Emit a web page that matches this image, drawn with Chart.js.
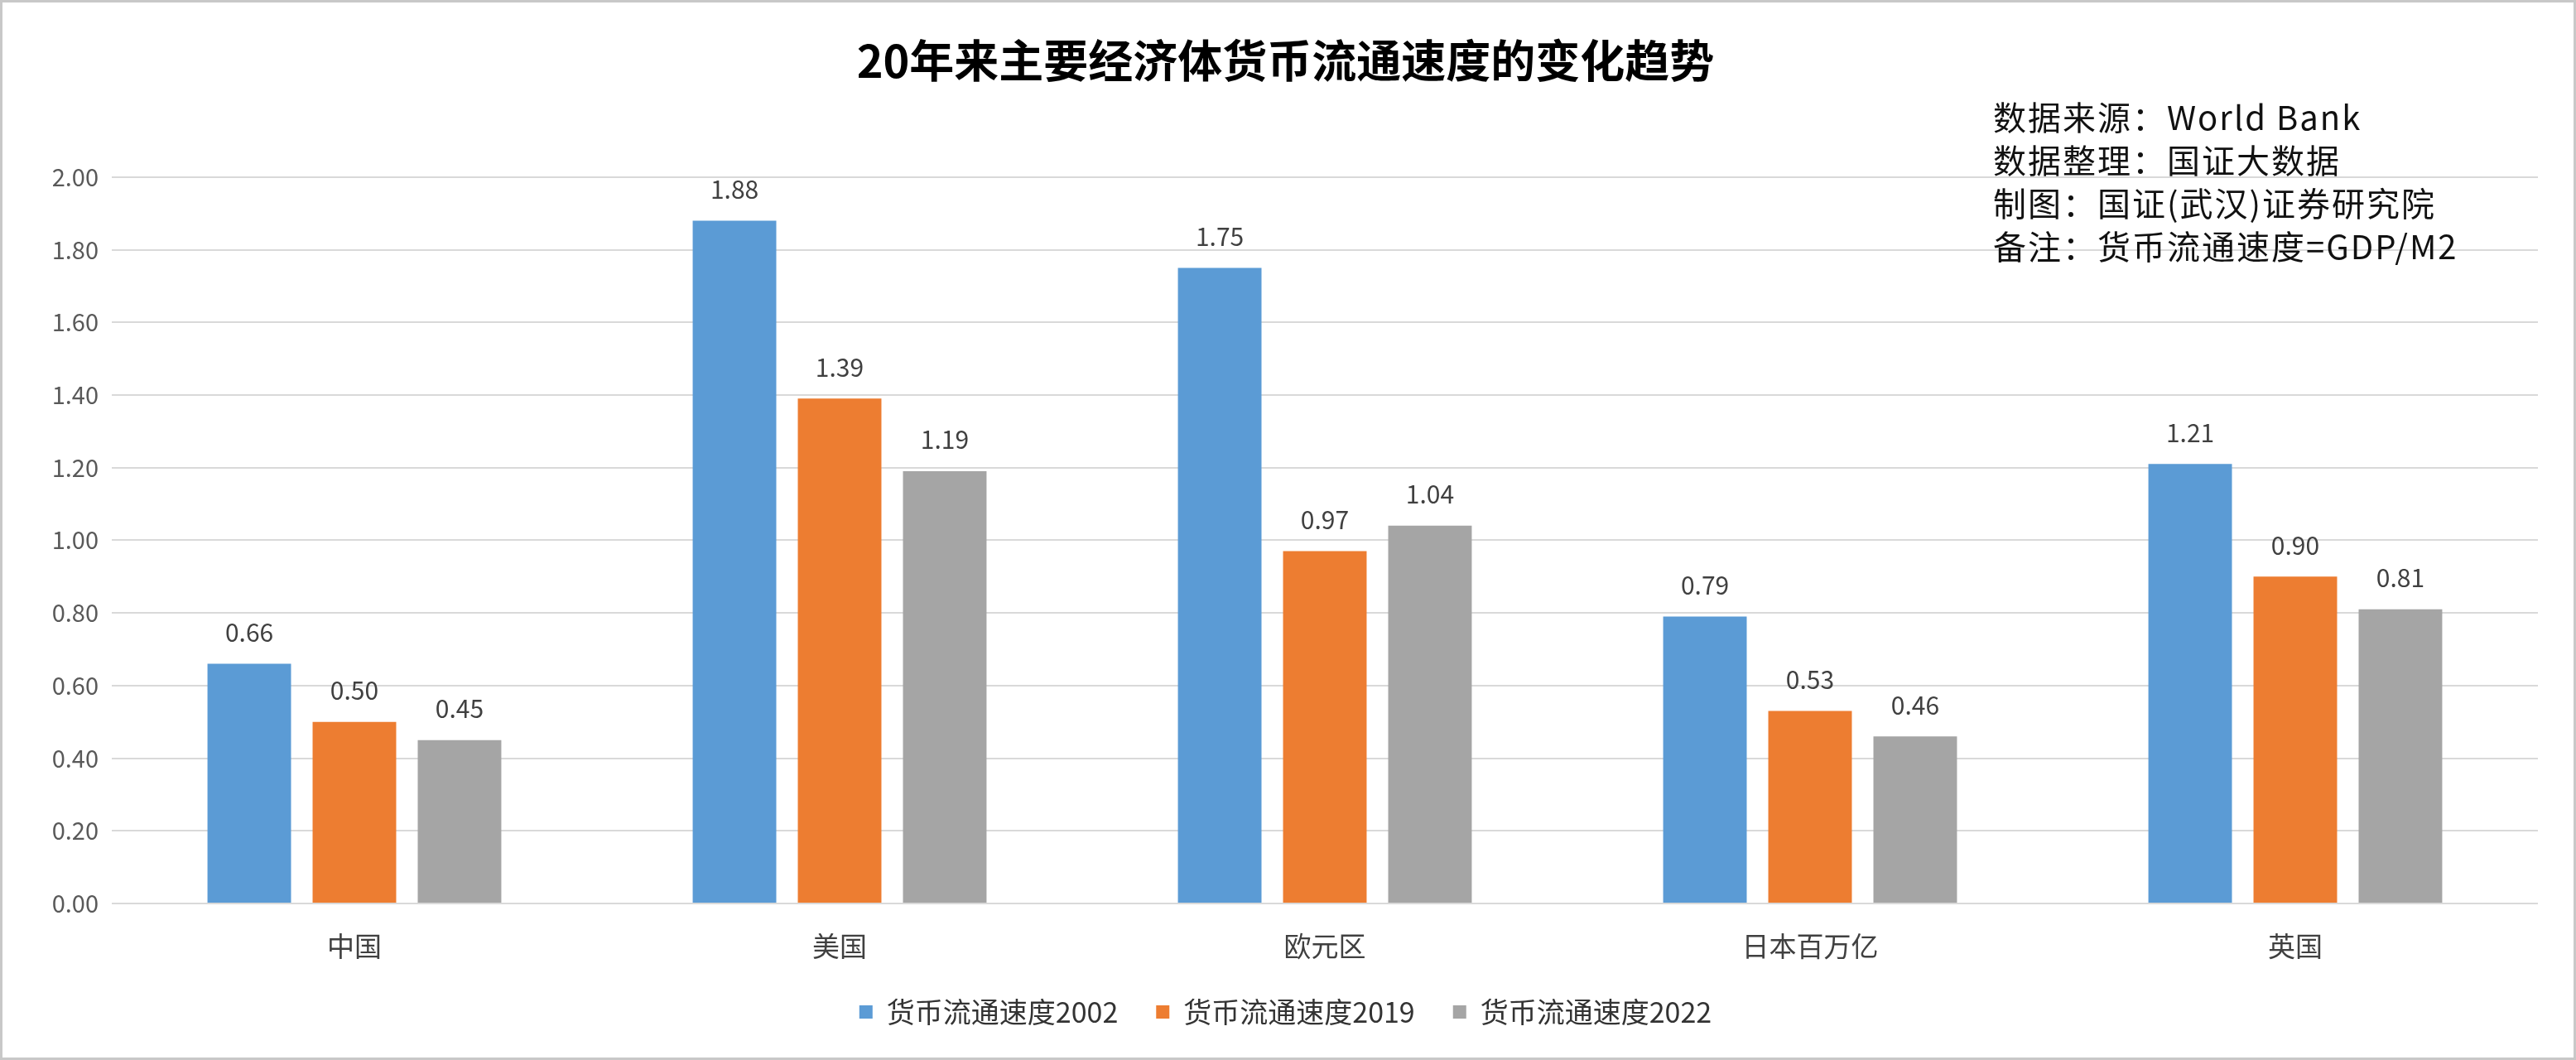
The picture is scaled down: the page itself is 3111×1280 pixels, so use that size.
<!DOCTYPE html>
<html><head><meta charset="utf-8">
<script src="https://cdn.jsdelivr.net/npm/chart.js@4.4.1/dist/chart.umd.min.js"></script>
<style>html,body{margin:0;padding:0;background:#fff;overflow:hidden}#wrap{width:3111px;height:1280px}</style>
</head><body><div id="wrap"><canvas id="c" width="3111" height="1280" style="width:3111px;height:1280px"></canvas></div>
<script>
const categories = ['中国', '美国', '欧元区', '日本百万亿', '英国'];
const seriesNames = ['货币流通速度2002', '货币流通速度2019', '货币流通速度2022'];
const v2002 = [0.66, 1.88, 1.75, 0.79, 1.21];
const v2019 = [0.50, 1.39, 0.97, 0.53, 0.90];
const v2022 = [0.45, 1.19, 1.04, 0.46, 0.81];
const yTickLabels = ['0.00', '0.20', '0.40', '0.60', '0.80', '1.00', '1.20', '1.40', '1.60', '1.80', '2.00'];
const titleText = '20年来主要经济体货币流通速度的变化趋势';
const notes = ['数据来源：World Bank', '数据整理：国证大数据', '制图：国证(武汉)证券研究院', '备注：货币流通速度=GDP/M2'];

const colors = ['#5B9BD5', '#ED7D31', '#A5A5A5'];
const FONT = '"Noto Sans CJK SC", "Noto Sans", sans-serif';

const bgPlugin = {
  id: 'bg',
  beforeDraw(chart) {
    const ctx = chart.ctx;
    ctx.save();
    ctx.fillStyle = '#ffffff';
    ctx.fillRect(0, 0, chart.width, chart.height);
    ctx.restore();
  },
  afterDraw(chart) {
    const ctx = chart.ctx;
    ctx.save();
    ctx.strokeStyle = '#c8c8c8';
    ctx.lineWidth = 3;
    ctx.strokeRect(1.5, 1.5, chart.width - 3, chart.height - 3);
    // notes block
    ctx.fillStyle = '#111111';
    ctx.font = '40px ' + FONT;
    ctx.textBaseline = 'middle';
    ctx.textAlign = 'left';
    try { ctx.letterSpacing = '2px'; } catch (e) {}
    const x0 = chart.width - 704;
    notes.forEach((t, i) => ctx.fillText(t, x0, 142 + i * 52));
    ctx.restore();
  }
};

const labelPlugin = {
  id: 'vals',
  afterDatasetsDraw(chart) {
    const ctx = chart.ctx;
    ctx.save();
    ctx.font = '30px ' + FONT;
    ctx.fillStyle = '#404040';
    ctx.textAlign = 'center';
    ctx.textBaseline = 'middle';
    chart.data.datasets.forEach((ds, di) => {
      const meta = chart.getDatasetMeta(di);
      meta.data.forEach((bar, i) => {
        ctx.fillText(ds.data[i].toFixed(2), bar.x, bar.y - 38);
      });
    });
    ctx.restore();
  }
};

new Chart(document.getElementById('c'), {
  type: 'bar',
  data: {
    labels: categories,
    datasets: [
      { label: seriesNames[0], data: v2002, backgroundColor: colors[0] },
      { label: seriesNames[1], data: v2019, backgroundColor: colors[1] },
      { label: seriesNames[2], data: v2022, backgroundColor: colors[2] }
    ]
  },
  options: {
    responsive: false,
    devicePixelRatio: 1,
    animation: false,
    layout: { padding: { left: 40, right: 46, top: 0, bottom: 31 } },
    datasets: { bar: { categoryPercentage: 0.65, barPercentage: 0.795 } },
    plugins: {
      title: {
        display: true,
        text: titleText,
        color: '#000000',
        font: { family: FONT, size: 54, weight: 'bold', lineHeight: 1.2 },
        padding: { top: 41, bottom: 108 }
      },
      legend: {
        position: 'bottom',
        labels: {
          boxWidth: 16, boxHeight: 16, padding: 46,
          color: '#333333',
          font: { family: FONT, size: 34 }
        }
      },
      tooltip: { enabled: false }
    },
    scales: {
      x: {
        grid: { display: false, drawTicks: false },
        border: { display: false },
        ticks: { color: '#404040', padding: 32, font: { family: FONT, size: 33, lineHeight: 1.2 } },
        afterFit(scale) { scale.height = 68; }
      },
      y: {
        min: 0, max: 2.0,
        grid: { color: '#d9d9d9', lineWidth: 2, drawTicks: false },
        border: { display: false },
        ticks: {
          stepSize: 0.2, padding: 16, color: '#595959',
          font: { family: FONT, size: 29 },
          callback: (v, i) => yTickLabels[i]
        },
        afterFit(scale) { scale.width = 95; }
      }
    }
  },
  plugins: [bgPlugin, labelPlugin]
});
</script></body></html>
